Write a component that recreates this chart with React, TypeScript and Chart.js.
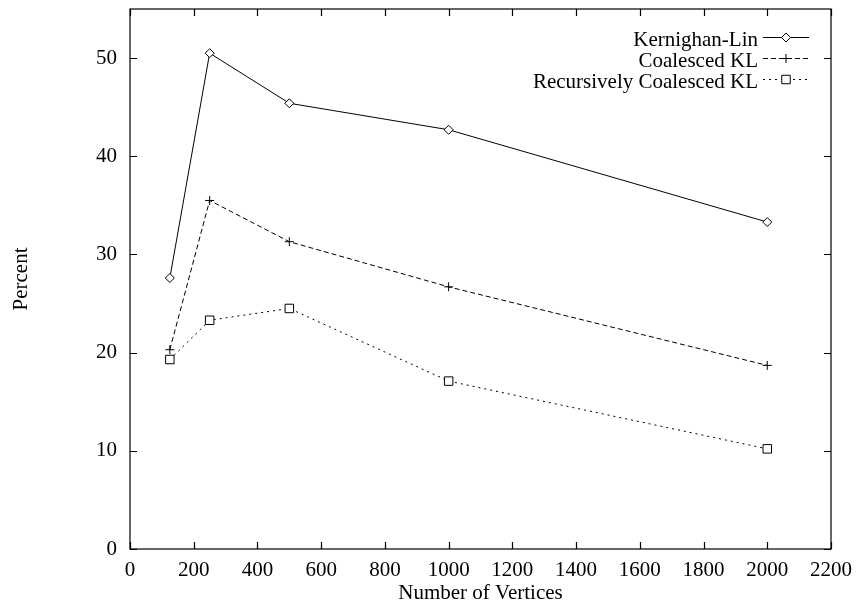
import React, { useEffect, useRef } from 'react';
import { Chart, registerables } from 'chart.js';
import { drawPoint } from 'chart.js/helpers';

Chart.register(...registerables);

const vertices = [125, 250, 500, 1000, 2000];
const klPercent = [27.6, 50.5, 45.4, 42.7, 33.3];
const coalescedPercent = [20.3, 35.5, 31.3, 26.7, 18.7];
const recursivePercent = [19.3, 23.3, 24.5, 17.1, 10.2];
const seriesLabels = ['Kernighan-Lin', 'Coalesced KL', 'Recursively Coalesced KL'];
const xTicks = [0, 200, 400, 600, 800, 1000, 1200, 1400, 1600, 1800, 2000, 2200];
const yTicks = [0, 10, 20, 30, 40, 50];
const xTitle = 'Number of Vertices';
const yTitle = 'Percent';

const FONT = "'Liberation Serif', 'DejaVu Serif', serif";

const framePlugin = {
  id: 'gnuframe',
  afterDraw(chart: any) {
    const { ctx, chartArea, scales } = chart;
    const { left, right, top, bottom } = chartArea;
    const xs = scales.x;
    const ys = scales.y;
    const tl = 7;
    ctx.save();
    ctx.strokeStyle = '#000';
    ctx.lineWidth = 1.2;
    ctx.setLineDash([]);
    ctx.strokeRect(left, top, right - left, bottom - top);
    ctx.beginPath();
    for (const v of xTicks) {
      const px = Math.round(xs.getPixelForValue(v)) + 0.5;
      ctx.moveTo(px, bottom);
      ctx.lineTo(px, bottom - tl);
      ctx.moveTo(px, top);
      ctx.lineTo(px, top + tl);
    }
    for (const v of yTicks) {
      const py = Math.round(ys.getPixelForValue(v)) + 0.5;
      ctx.moveTo(left, py);
      ctx.lineTo(left + tl, py);
      ctx.moveTo(right, py);
      ctx.lineTo(right - tl, py);
    }
    ctx.stroke();

    // key
    const textRight = 758;
    const sx0 = 763;
    const sx1 = 809;
    const rowY = [39, 60, 81];
    ctx.font = `21px ${FONT}`;
    ctx.fillStyle = '#000';
    ctx.textAlign = 'right';
    ctx.textBaseline = 'middle';
    chart.data.datasets.forEach((ds: any, i: number) => {
      const y = rowY[i];
      ctx.fillText(ds.label, textRight, y + 1);
      ctx.beginPath();
      ctx.lineWidth = 1;
      ctx.setLineDash(ds.borderDash || []);
      ctx.moveTo(sx0, y - 1.5);
      ctx.lineTo(sx1, y - 1.5);
      ctx.stroke();
      ctx.setLineDash([]);
      ctx.fillStyle = '#fff';
      drawPoint(ctx, {
        pointStyle: ds.pointStyle,
        radius: ds.pointRadius,
        rotation: 0,
        borderWidth: 1,
      } as any, (sx0 + sx1) / 2, y - 1.5);
      ctx.fillStyle = '#000';
    });
    ctx.restore();
  },
};

export default function App() {
  const ref = useRef<HTMLCanvasElement | null>(null);

  useEffect(() => {
    if (!ref.current) return;
    const mk = (vals: number[]) => vertices.map((x, i) => ({ x, y: vals[i] }));
    const common = {
      borderColor: '#000',
      borderWidth: 1,
      pointBorderColor: '#000',
      pointBackgroundColor: '#fff',
      pointBorderWidth: 1,
      pointHoverRadius: 4,
      fill: false,
      tension: 0,
      clip: false as any,
    };
    const zeroPad = (s: any) => {
      s.paddingTop = 0;
      s.paddingBottom = 0;
      s.paddingLeft = 0;
      s.paddingRight = 0;
    };
    const chart = new Chart(ref.current, {
      type: 'line',
      data: {
        datasets: [
          { ...common, label: seriesLabels[0], data: mk(klPercent), pointStyle: 'rectRot', pointRadius: 4.5, borderDash: [] },
          { ...common, label: seriesLabels[1], data: mk(coalescedPercent), pointStyle: 'cross', pointRadius: 4.5, borderDash: [5, 3] },
          { ...common, label: seriesLabels[2], data: mk(recursivePercent), pointStyle: 'rect', pointRadius: 6, borderDash: [2, 4] },
        ],
      },
      options: {
        animation: false,
        responsive: false,
        maintainAspectRatio: false,
        layout: { padding: { left: 0, top: 9, right: 26, bottom: 0 } },
        plugins: {
          legend: { display: false },
          tooltip: { enabled: false },
        },
        scales: {
          x: {
            type: 'linear',
            min: 0,
            max: 2200,
            grid: { display: false, drawTicks: false },
            border: { display: false },
            afterBuildTicks: (s: any) => { s.ticks = xTicks.map((v) => ({ value: v })); },
            afterFit: (s: any) => { s.height = 58; zeroPad(s); },
            ticks: {
              color: '#000',
              padding: 9,
              maxRotation: 0,
              autoSkip: false,
              font: { family: FONT, size: 21 },
              callback: (v: any) => String(v),
            },
            title: {
              display: true,
              text: xTitle,
              color: '#000',
              font: { family: FONT, size: 21 },
              padding: { top: 0, bottom: 1 },
            },
          },
          y: {
            type: 'linear',
            min: 0,
            max: 55,
            grid: { display: false, drawTicks: false },
            border: { display: false },
            afterBuildTicks: (s: any) => { s.ticks = yTicks.map((v) => ({ value: v })); },
            afterFit: (s: any) => { s.width = 130; zeroPad(s); },
            ticks: {
              color: '#000',
              padding: 13,
              autoSkip: false,
              font: { family: FONT, size: 21 },
              callback: (v: any) => String(v),
            },
            title: {
              display: true,
              text: yTitle,
              color: '#000',
              font: { family: FONT, size: 21 },
              padding: { top: 9, bottom: 0 },
            },
          },
        },
      },
      plugins: [framePlugin],
    });
    return () => chart.destroy();
  }, []);

  return (
    <div style={{ position: 'fixed', left: 0, top: 0, width: 857, height: 607, background: '#fff' }}>
      <canvas ref={ref} width={857} height={607} style={{ display: 'block', width: 857, height: 607 }} />
    </div>
  );
}
